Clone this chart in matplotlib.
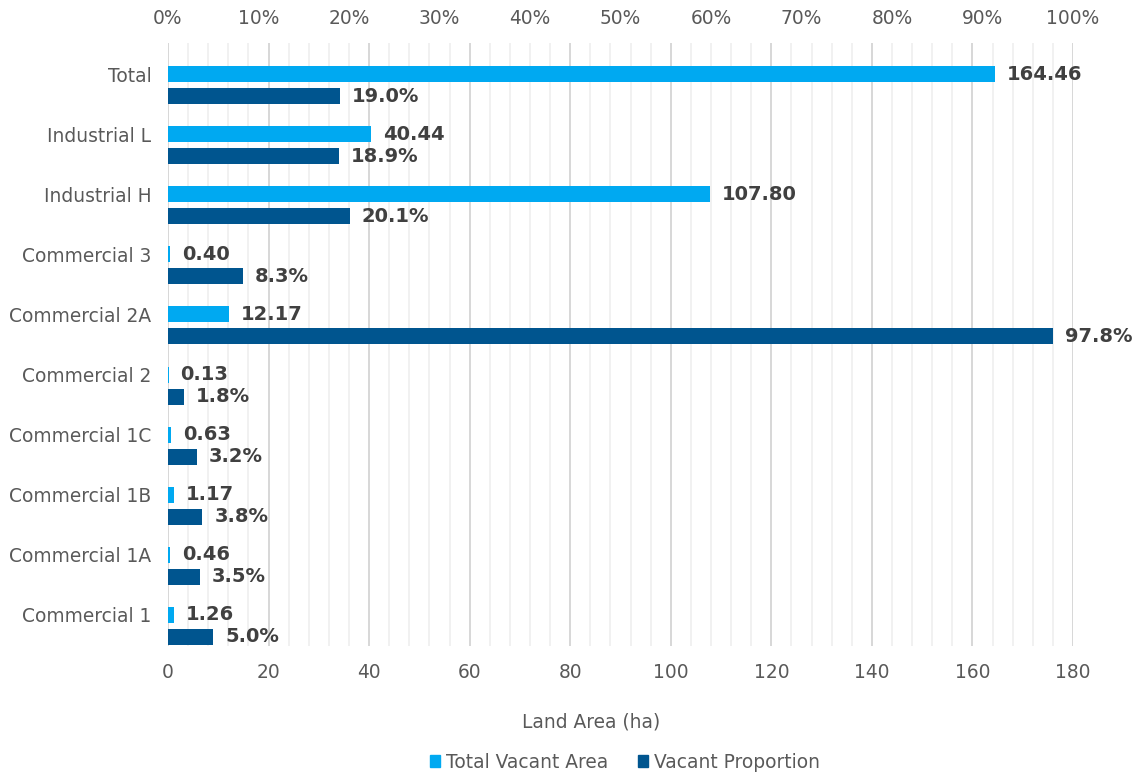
import matplotlib
matplotlib.use("Agg")
import matplotlib.pyplot as plt
from matplotlib.ticker import MultipleLocator, FuncFormatter
from matplotlib.patches import Patch

# Zoning categories, listed bottom to top
categories = ["Commercial 1", "Commercial 1A", "Commercial 1B", "Commercial 1C",
              "Commercial 2", "Commercial 2A", "Commercial 3", "Industrial H",
              "Industrial L", "Total"]
vacant_area = [1.26, 0.46, 1.17, 0.63, 0.13, 12.17, 0.40, 107.80, 40.44, 164.46]
vacant_share = [0.050, 0.035, 0.038, 0.032, 0.018, 0.978, 0.083, 0.201, 0.189, 0.190]

area_ticks = list(range(0, 181, 20))
share_ticks = [i / 10 for i in range(11)]

light_blue = "#00A9F1"
dark_blue = "#00558F"
tick_grey = "#595959"
label_grey = "#404040"

W, H = 1139, 774
fig = plt.figure(figsize=(W / 100, H / 100), dpi=100)
plt.rcParams["font.family"] = ["DejaVu Sans"]
fs = 13.4
lfs = 14

left, right, top, bottom = 168, 1073, 43, 646
ax = fig.add_axes([left / W, (H - bottom) / H, (right - left) / W, (bottom - top) / H])

bar_h = 0.266
offset = 0.366
ys = list(range(len(categories)))

ax.barh(ys, vacant_area, height=bar_h, color=light_blue, zorder=3)
ax.set_xlim(0, 180)
ax.set_ylim(-0.516, len(categories) - 1 + 0.516)
ax.xaxis.set_major_locator(MultipleLocator(20))
ax.xaxis.set_minor_locator(MultipleLocator(4))
ax.set_xticks(area_ticks)
ax.grid(axis="x", which="major", color="#D4D4D4", lw=1.3, zorder=0)
ax.grid(axis="x", which="minor", color="#EEEEEE", lw=1.1, zorder=0)
ax.set_axisbelow(True)
ax.set_yticks(ys)
ax.set_yticklabels(categories)
ax.tick_params(axis="y", length=0, pad=12, labelsize=fs, labelcolor=tick_grey)
ax.tick_params(axis="x", which="both", length=0, pad=12, labelsize=fs, labelcolor=tick_grey)
for s in ax.spines.values():
    s.set_visible(False)

for y, v in zip(ys, vacant_area):
    ax.annotate(f"{v:.2f}", (v, y), xytext=(8.5, 0), textcoords="offset points",
                va="center", ha="left", fontsize=lfs, fontweight="bold",
                color=label_grey, zorder=5)

ax.set_xlabel("Land Area (ha)", fontsize=fs, color=tick_grey)
ax.xaxis.set_label_coords((591 - left) / (right - left), -(713 - bottom) / (bottom - top))

ax2 = ax.twiny()
ax2.barh([y - offset for y in ys], vacant_share, height=bar_h, color=dark_blue, zorder=3)
ax2.set_xlim(0, 1)
ax2.set_xticks(share_ticks)
ax2.xaxis.set_major_formatter(FuncFormatter(lambda v, p: f"{v:.0%}"))
ax2.tick_params(axis="x", length=0, pad=11, labelsize=fs, labelcolor=tick_grey)
for s in ax2.spines.values():
    s.set_visible(False)

for y, v in zip(ys, vacant_share):
    ax2.annotate(f"{v:.1%}", (v, y - offset), xytext=(8.5, 0), textcoords="offset points",
                 va="center", ha="left", fontsize=lfs, fontweight="bold",
                 color=label_grey, zorder=5)

handles = [Patch(color=light_blue, label="Total Vacant Area"),
           Patch(color=dark_blue, label="Vacant Proportion")]
fig.legend(handles=handles, loc="center", bbox_to_anchor=(625 / W, 12 / H),
           ncol=2, frameon=False, fontsize=fs, handlelength=0.55, handleheight=0.55,
           handletextpad=0.3, columnspacing=1.6, borderpad=0, labelcolor=tick_grey)

fig.savefig("out.png", dpi=100)
